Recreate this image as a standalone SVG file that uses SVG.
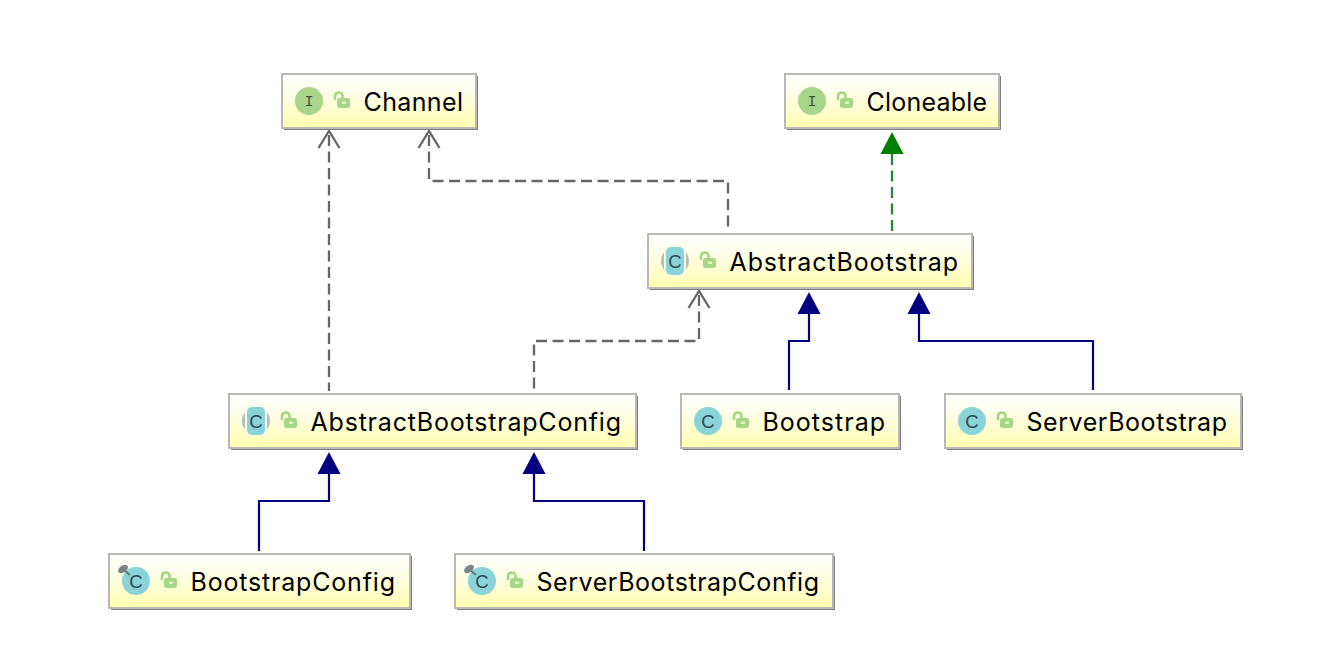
<svg xmlns="http://www.w3.org/2000/svg" width="1318" height="656" viewBox="0 0 1318 656">
<defs>
<linearGradient id="g" x1="0" y1="0" x2="0" y2="1"><stop offset="0" stop-color="#ffffff"/><stop offset="0.25" stop-color="#fffff2"/><stop offset="1" stop-color="#ffffb0"/></linearGradient>
<g id="lock"><path d="M-7 -1V-4.500a3.800 3.800 0 0 1 7.500 -1V-3" fill="none" stroke="#a5d786" stroke-width="2.600"/><rect x="-5" y="-3" width="13" height="10" rx="2.500" fill="#a5d786"/><rect x="0" y="0.500" width="4" height="2.500" fill="#e6f3c8"/></g>
<g id="shade"><circle r="14" fill="#b9bdb9"/><rect x="-11" y="-15" width="22" height="30" fill="#fbfbe6"/><rect x="-9" y="-14" width="18" height="28" rx="5" fill="#8ad3d8"/></g>
<g id="pin"><circle r="14" fill="#8ad3d8"/><path d="M-6 -6L-12 -11" stroke="#66757a" stroke-width="2"/><ellipse cx="-13" cy="-12" rx="5.500" ry="3.500" fill="#7b8488" transform="rotate(-35 -13 -12)"/></g>
</defs>
<style>
.box{fill:url(#g);stroke:#b8b8b8;stroke-width:2}
.sh{fill:#808080}
.t{font:25px Inter,"Liberation Sans",Arial,sans-serif;fill:#000}
.ic{font:18.500px "Liberation Sans",Arial,sans-serif;fill:#2f4a52;text-anchor:middle}
.ii{font:15px "Liberation Mono",monospace;fill:#40533a;text-anchor:middle}
.dash{fill:none;stroke:#666;stroke-width:2.300;stroke-dasharray:11 5.500}
.ext{fill:none;stroke:#000080;stroke-width:2.200}
.tri{fill:#000080}
.open{fill:none;stroke:#666;stroke-width:2.300}
</style>
<g id="connectors">
<path class="dash" d="M329 135V391"/><path class="open" d="M318.500 148L329 131L339.500 148"/>
<path class="dash" d="M429 135V181H728V231"/><path class="open" d="M418.500 148L429 131L439.500 148"/>
<path class="dash" d="M699 295V341H534V391"/><path class="open" d="M688.500 308L699 291L709.500 308"/>
<path d="M892 154V231" fill="none" stroke="#1f8a2f" stroke-width="2.300" stroke-dasharray="11 5.500"/><path d="M892 132L903.500 154H880.500Z" fill="#008000"/>
<path class="ext" d="M789 390V341H809V312"/><path class="tri" d="M809 292L820.500 314H797.500Z"/>
<path class="ext" d="M1093 390V341H919V312"/><path class="tri" d="M919 292L930.500 314H907.500Z"/>
<path class="ext" d="M259 551V501H329V472"/><path class="tri" d="M329 452L340.500 474H317.500Z"/>
<path class="ext" d="M644 551V501H534V472"/><path class="tri" d="M534 452L545.500 474H522.500Z"/>
</g>
<g id="channel"><rect class="sh" x="284" y="76" width="194" height="54"/><rect class="box" x="282" y="74" width="194" height="54"/><circle cx="309" cy="101" r="14" fill="#a9d58a"/><text class="ii" x="309" y="106">I</text><use href="#lock" x="342" y="101"/><text class="t" x="363.500" y="111" textLength="99.500">Channel</text></g>
<g id="cloneable"><rect class="sh" x="787" y="76" width="214" height="54"/><rect class="box" x="785" y="74" width="214" height="54"/><circle cx="812" cy="101" r="14" fill="#a9d58a"/><text class="ii" x="812" y="106">I</text><use href="#lock" x="845" y="101"/><text class="t" x="866.500" y="111" textLength="120.500">Cloneable</text></g>
<g id="abstractbootstrap"><rect class="sh" x="650" y="236" width="324" height="54"/><rect class="box" x="648" y="234" width="324" height="54"/><use href="#shade" x="675" y="261"/><text class="ic" x="675" y="267.500">C</text><use href="#lock" x="708" y="261"/><text class="t" x="729.500" y="271" textLength="228.500">AbstractBootstrap</text></g>
<g id="abstractbootstrapconfig"><rect class="sh" x="231" y="396" width="407" height="54"/><rect class="box" x="229" y="394" width="407" height="54"/><use href="#shade" x="256" y="421"/><text class="ic" x="256" y="427.500">C</text><use href="#lock" x="289" y="421"/><text class="t" x="310.500" y="431" textLength="310.500">AbstractBootstrapConfig</text></g>
<g id="bootstrap"><rect class="sh" x="683" y="396" width="218" height="54"/><rect class="box" x="681" y="394" width="218" height="54"/><circle cx="708" cy="421" r="14" fill="#8ad3d8"/><text class="ic" x="708" y="427.500">C</text><use href="#lock" x="741" y="421"/><text class="t" x="762.500" y="431" textLength="122.500">Bootstrap</text></g>
<g id="serverbootstrap"><rect class="sh" x="947" y="396" width="296" height="54"/><rect class="box" x="945" y="394" width="296" height="54"/><circle cx="972" cy="421" r="14" fill="#8ad3d8"/><text class="ic" x="972" y="427.500">C</text><use href="#lock" x="1005" y="421"/><text class="t" x="1026.500" y="431" textLength="200.500">ServerBootstrap</text></g>
<g id="bootstrapconfig"><rect class="sh" x="111" y="556" width="301" height="54"/><rect class="box" x="109" y="554" width="301" height="54"/><use href="#pin" x="136" y="581"/><text class="ic" x="136" y="587.500">C</text><use href="#lock" x="169" y="581"/><text class="t" x="190.500" y="591" textLength="204.500">BootstrapConfig</text></g>
<g id="serverbootstrapconfig"><rect class="sh" x="457" y="556" width="378" height="54"/><rect class="box" x="455" y="554" width="378" height="54"/><use href="#pin" x="482" y="581"/><text class="ic" x="482" y="587.500">C</text><use href="#lock" x="515" y="581"/><text class="t" x="536.500" y="591" textLength="282.500">ServerBootstrapConfig</text></g>
</svg>
